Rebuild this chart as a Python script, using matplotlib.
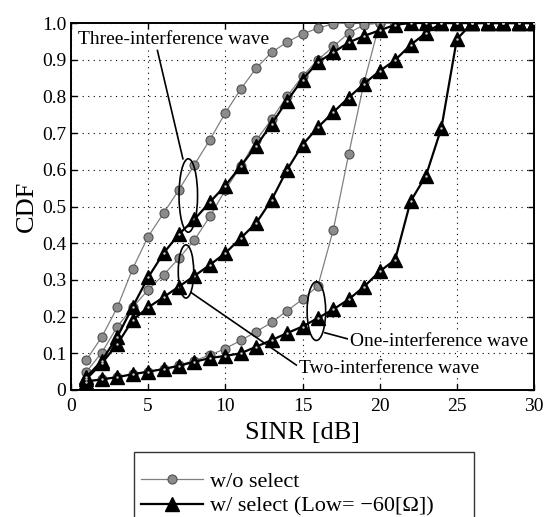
import numpy as np
import matplotlib
matplotlib.use('Agg')
import matplotlib.pyplot as plt
from matplotlib.patches import Ellipse
from matplotlib.lines import Line2D

plt.rcParams['font.family'] = ['Liberation Serif', 'DejaVu Serif']

# SINR [dB]
snr = list(range(1, 31))

# w/o select (gray circles)
three_wo = [0.082, 0.145, 0.225, 0.331, 0.418, 0.482, 0.546, 0.614, 0.682, 0.755,
            0.820, 0.877, 0.920, 0.948, 0.970, 0.986, 0.998, 1.0, 1.0, 1.0,
            1.0, 1.0, 1.0, 1.0, 1.0, 1.0, 1.0, 1.0, 1.0, 1.0]
two_wo = [0.050, 0.102, 0.173, 0.225, 0.273, 0.314, 0.359, 0.409, 0.473, 0.545,
          0.610, 0.680, 0.738, 0.800, 0.855, 0.900, 0.936, 0.973, 0.995, 1.0,
          1.0, 1.0, 1.0, 1.0, 1.0, 1.0, 1.0, 1.0, 1.0, 1.0]
one_wo = [0.025, 0.030, 0.036, 0.043, 0.050, 0.058, 0.068, 0.080, 0.095, 0.113,
          0.135, 0.159, 0.184, 0.216, 0.247, 0.284, 0.437, 0.644, 0.840, 1.0,
          1.0, 1.0, 1.0, 1.0, 1.0, 1.0, 1.0, 1.0, 1.0, 1.0]

# w/ select (black triangles)
three_w = [0.035, 0.080, 0.145, 0.227, 0.307, 0.373, 0.425, 0.465, 0.512, 0.557,
           0.610, 0.665, 0.725, 0.788, 0.846, 0.893, 0.920, 0.947, 0.965, 0.980,
           0.995, 1.0, 1.0, 1.0, 1.0, 1.0, 1.0, 1.0, 1.0, 1.0]
two_w = [0.030, 0.073, 0.125, 0.191, 0.225, 0.253, 0.282, 0.311, 0.341, 0.373,
         0.414, 0.455, 0.518, 0.600, 0.668, 0.716, 0.757, 0.797, 0.835, 0.869,
         0.899, 0.940, 0.973, 1.0, 1.0, 1.0, 1.0, 1.0, 1.0, 1.0]
one_w = [0.023, 0.029, 0.035, 0.043, 0.050, 0.057, 0.066, 0.077, 0.087, 0.093,
         0.100, 0.118, 0.136, 0.155, 0.173, 0.196, 0.220, 0.247, 0.282, 0.323,
         0.355, 0.514, 0.584, 0.714, 0.956, 1.0, 1.0, 1.0, 1.0, 1.0]

xticks = [0, 5, 10, 15, 20, 25, 30]
yticks = [0, 0.1, 0.2, 0.3, 0.4, 0.5, 0.6, 0.7, 0.8, 0.9, 1.0]
ytick_labels = ['0', '0.1', '0.2', '0.3', '0.4', '0.5', '0.6', '0.7', '0.8', '0.9', '1.0']

fig = plt.figure(figsize=(5.48, 5.17), dpi=100)
ax = fig.add_axes([71 / 548, 1 - 390 / 517, 463 / 548, 367 / 517])

wo_style = dict(color='#808080', lw=0.9, marker='o', ms=6.5,
                markerfacecolor='#8c8c8c', markeredgecolor='#505050', markeredgewidth=0.8)
w_style = dict(color='black', lw=1.6, marker='^', ms=10,
               markerfacecolor='black', markeredgecolor='black')

for ys in (three_wo, two_wo, one_wo):
    ax.plot(snr, ys, zorder=3, **wo_style)
for ys in (three_w, two_w, one_w):
    ax.plot(snr, ys, zorder=4, **w_style)
    # small light dot inside the triangles (scan artefact look)
    ax.plot(snr, ys, ls='none', marker='.', ms=1.5, color='#cccccc', zorder=5)

ax.set_xlim(0, 30)
ax.set_ylim(0, 1.0)
ax.set_xticks(xticks)
ax.set_yticks(yticks)
ax.set_yticklabels(ytick_labels)
ax.tick_params(direction='in', top=True, right=True, labelsize=14, length=4, width=1)
ax.tick_params(axis='x', pad=6)
ax.grid(True, ls=(0, (1, 4)), color='black', lw=0.8)
for s in ax.spines.values():
    s.set_linewidth(1.4)

ax.set_xlabel('SINR [dB]', fontsize=19, labelpad=5)
ax.set_ylabel('CDF', fontsize=19, labelpad=3)

# ellipses and pointers
ax.add_patch(Ellipse((7.6, 0.53), 1.2, 0.2, fill=False, lw=1.2, ec='black', zorder=6))
ax.add_patch(Ellipse((7.45, 0.323), 1.0, 0.145, fill=False, lw=1.2, ec='black', zorder=6))
ax.add_patch(Ellipse((15.9, 0.215), 1.2, 0.16, fill=False, lw=1.2, ec='black', zorder=6))

ax.plot([5.6, 7.25], [0.925, 0.63], color='black', lw=1.2, zorder=6)
ax.plot([7.8, 14.6], [0.265, 0.068], color='black', lw=1.2, zorder=6)
ax.plot([16.45, 17.95], [0.156, 0.139], color='black', lw=1.2, zorder=6)

txt_bg = dict(facecolor='white', edgecolor='none', pad=1)
ax.text(0.45, 0.955, 'Three-interference wave', fontsize=14, va='center', ha='left',
        bbox=txt_bg, zorder=7)
ax.text(14.8, 0.059, 'Two-interference wave', fontsize=14, va='center', ha='left',
        bbox=txt_bg, zorder=7)
ax.text(18.05, 0.132, 'One-interference wave', fontsize=14, va='center', ha='left',
        bbox=txt_bg, zorder=7)

# legend sits below the axes and runs off the bottom edge like the scan
handles = [Line2D([], [], **wo_style), Line2D([], [], **w_style)]
labels = ['w/o select', 'w/ select (Low= \u221260[\u03a9])      ']
leg = fig.legend(handles, labels, loc='upper left', bbox_to_anchor=(134 / 548, 1 - 452 / 517),
                 fontsize=16, handlelength=2.8, frameon=True, fancybox=False,
                 edgecolor='black', borderpad=0.3, labelspacing=0.2, handletextpad=0.3,
                 borderaxespad=0, title=' ', title_fontsize=6)
leg.get_frame().set_linewidth(1.0)

fig.savefig('out.png', dpi=100)
